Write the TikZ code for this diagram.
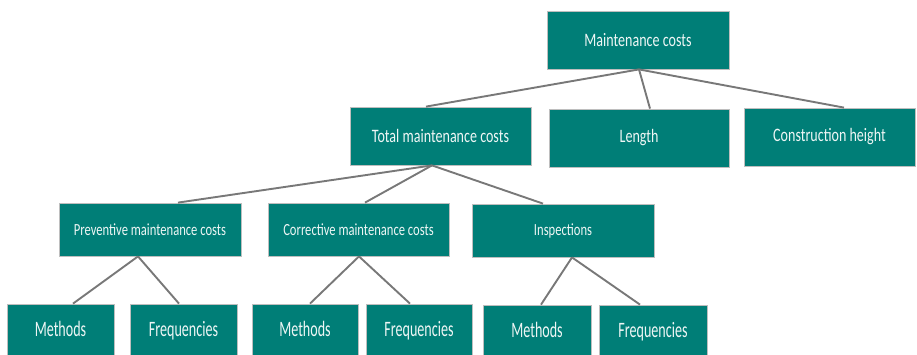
\documentclass[tikz,border=0pt]{standalone}
\usepackage{fontspec}
\setmainfont{Carlito}
\usepackage{graphicx}
\definecolor{teal1}{RGB}{0,126,119}
\definecolor{edgegrey}{RGB}{190,190,190}
\definecolor{linegrey}{RGB}{120,120,120}
\definecolor{txt}{RGB}{238,246,245}
\newcommand\sqz[2]{\scalebox{#1}[1]{#2}}
\tikzset{
  box/.style={draw=edgegrey, line width=0.8pt, fill=teal1, text=txt, inner sep=0pt, anchor=center},
  topbox/.style={box, minimum height=58pt, font=\fontsize{19}{21}\selectfont},
  midbox/.style={box, minimum height=53pt, font=\fontsize{17}{19}\selectfont},
  lowbox/.style={box, minimum height=58pt, text depth=8pt, font=\fontsize{22}{24}\selectfont},
  conn/.style={draw=linegrey, line width=1.9pt}
}
\begin{document}
\begin{tikzpicture}[x=1pt, y=-1pt]
\useasboundingbox (0,0) rectangle (917,354);
\begin{scope}
\clip (0,0) rectangle (917,354);
\node[topbox, minimum width=182pt] (root) at (638,40) {\sqz{0.74}{Maintenance costs}};
\node[topbox, minimum width=181pt] (total) at (440.5,136) {\sqz{0.74}{Total maintenance costs}};
\node[topbox, minimum width=180pt] (length) at (639,138) {\sqz{0.74}{Length}};
\node[topbox, minimum width=171pt] (constr) at (829.5,137) {\sqz{0.74}{Construction height}};
\node[midbox, minimum width=182pt] (prev) at (150,229.5) {\sqz{0.74}{Preventive maintenance costs}};
\node[midbox, minimum width=181pt] (corr) at (358.5,229.5) {\sqz{0.74}{Corrective maintenance costs}};
\node[midbox, minimum width=182pt] (insp) at (563,230.5) {\sqz{0.74}{Inspections}};
\node[lowbox, minimum width=107pt] (m1) at (60.5,333) {\sqz{0.64}{Methods}};
\node[lowbox, minimum width=107pt] (f1) at (183.5,333) {\sqz{0.64}{Frequencies}};
\node[lowbox, minimum width=106pt] (m2) at (305,333) {\sqz{0.64}{Methods}};
\node[lowbox, minimum width=106pt] (f2) at (419,333) {\sqz{0.64}{Frequencies}};
\node[lowbox, minimum width=108pt] (m3) at (537,334) {\sqz{0.64}{Methods}};
\node[lowbox, minimum width=108pt] (f3) at (653,334) {\sqz{0.64}{Frequencies}};
\draw[conn] ([xshift=1pt]root.south) -- ([xshift=-14.5pt]total.north);
\draw[conn] ([xshift=1pt]root.south) -- ([xshift=11pt]length.north);
\draw[conn] ([xshift=1pt]root.south) -- ([xshift=14.5pt]constr.north);
\draw[conn] ([xshift=-8.5pt]total.south) -- ([xshift=28pt]prev.north);
\draw[conn] ([xshift=-8.5pt]total.south) -- ([xshift=6.5pt]corr.north);
\draw[conn] ([xshift=-8.5pt]total.south) -- ([xshift=-20pt]insp.north);
\draw[conn] ([xshift=-12pt]prev.south) -- ([xshift=12.5pt]m1.north);
\draw[conn] ([xshift=-12pt]prev.south) -- ([xshift=-4.5pt]f1.north);
\draw[conn] ([xshift=0.5pt]corr.south) -- ([xshift=5pt]m2.north);
\draw[conn] ([xshift=0.5pt]corr.south) -- ([xshift=-9pt]f2.north);
\draw[conn] ([xshift=9pt]insp.south) -- ([xshift=4pt]m3.north);
\draw[conn] ([xshift=9pt]insp.south) -- ([xshift=-13pt]f3.north);
\end{scope}
\end{tikzpicture}
\end{document}
